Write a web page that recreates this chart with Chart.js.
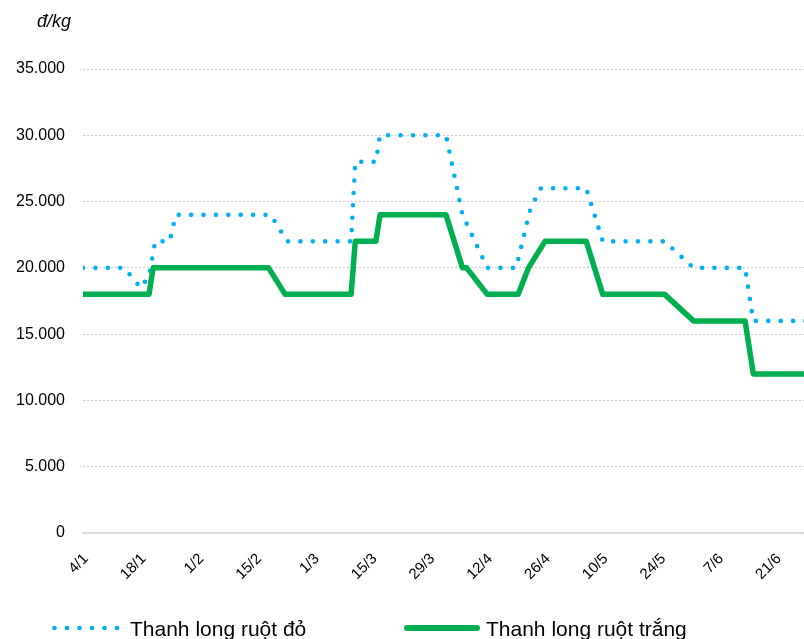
<!DOCTYPE html>
<html>
<head>
<meta charset="utf-8">
<script src="https://cdn.jsdelivr.net/npm/chart.js@4.4.1/dist/chart.umd.min.js"></script>
<style>
    html, body { margin: 0; padding: 0; width: 804px; height: 639px; overflow: hidden; background: #fff; }
    #wrap { position: relative; width: 830px; height: 639px; }
    #chart { position: absolute; left: 0; top: 0; }
    .lg-item { position: absolute; top: 618px; font: 21px "Liberation Sans", Arial, sans-serif; line-height: 21px; color: #000; white-space: nowrap; }
    .lg-mark { position: absolute; top: 623px; }
</style>
</head>
<body>
<div id="wrap">
    <canvas id="chart" width="830" height="639"></canvas>
    <svg class="lg-mark" style="left:52px" width="72" height="10">
        <line x1="2.5" y1="5" x2="67" y2="5" stroke="#00B0F0" stroke-width="4.7" stroke-linecap="round" stroke-dasharray="0 12.5"/>
    </svg>
    <div class="lg-item" id="lg0" style="left:130px"></div>
    <svg class="lg-mark" style="left:404px" width="76" height="10">
        <line x1="3" y1="5" x2="73" y2="5" stroke="#00B050" stroke-width="6" stroke-linecap="round"/>
    </svg>
    <div class="lg-item" id="lg1" style="left:486px"></div>
</div>
<script>
// x positions are days counted from 4/1
const tickDays = [0, 14, 28, 42, 56, 70, 84, 98, 112, 126, 140, 154, 168];
const tickLabels = ['4/1', '18/1', '1/2', '15/2', '1/3', '15/3', '29/3', '12/4', '26/4', '10/5', '24/5', '7/6', '21/6'];

const seriesNames = ['Thanh long ruột đỏ', 'Thanh long ruột trắng'];
const unitText = 'đ/kg';

// ruột đỏ (red flesh)
const redDays = [0, 10, 14, 16, 17.5, 21, 22.5, 45.5, 49.5, 65, 66, 71, 72, 88, 92, 98, 105, 108.5, 111, 122, 126, 141, 148, 160.5, 162.5, 176];
const redPrices = [20000, 20000, 18500, 19400, 22000, 22000, 24000, 24000, 22000, 22000, 28000, 28000, 30000, 30000, 24000, 20000, 20000, 24500, 26000, 26000, 22000, 22000, 20000, 20000, 16000, 16000];

// ruột trắng (white flesh)
const whiteDays = [0, 16, 17, 45, 49, 65, 66, 71, 72, 88, 92, 93, 98, 105.5, 108, 112, 122, 126, 141, 148, 160.5, 162.5, 176];
const whitePrices = [18000, 18000, 20000, 20000, 18000, 18000, 22000, 22000, 24000, 24000, 20000, 20000, 18000, 18000, 20000, 22000, 22000, 18000, 18000, 16000, 16000, 12000, 12000];

const fmt = v => String(v).replace(/\B(?=(\d{3})+(?!\d))/g, '.');
const toPoints = (xs, ys) => xs.map((x, i) => ({ x: x, y: ys[i] }));

const unitLabel = {
    id: 'unitLabel',
    afterDraw(chart) {
        const c = chart.ctx;
        c.save();
        c.font = 'italic 18px "Liberation Sans", Arial, sans-serif';
        c.fillStyle = '#000';
        c.textBaseline = 'alphabetic';
        c.fillText(unitText, 37, 27);
        c.restore();
    }
};

const font = { family: '"Liberation Sans", Arial, sans-serif' };

const chart = new Chart(document.getElementById('chart'), {
    type: 'line',
    data: {
        datasets: [{
            label: seriesNames[0],
            data: toPoints(redDays, redPrices),
            borderColor: '#00B0F0',
            borderWidth: 4.6,
            borderDash: [0, 12.4],
            borderCapStyle: 'round',
            borderJoinStyle: 'round',
            pointRadius: 0,
            tension: 0,
            order: 1
        }, {
            label: seriesNames[1],
            data: toPoints(whiteDays, whitePrices),
            borderColor: '#00B050',
            borderWidth: 5.5,
            borderCapStyle: 'round',
            borderJoinStyle: 'round',
            pointRadius: 0,
            tension: 0,
            order: 0
        }]
    },
    options: {
        responsive: false,
        animation: false,
        layout: { padding: { left: 0, right: 21, top: 69, bottom: 0 } },
        plugins: {
            legend: { display: false },
            tooltip: { enabled: false }
        },
        scales: {
            x: {
                type: 'linear',
                min: 0,
                max: 176,
                afterBuildTicks: s => { s.ticks = tickDays.map(v => ({ value: v })); },
                afterFit: s => { s.height = 106; },
                ticks: {
                    autoSkip: false,
                    minRotation: 45,
                    maxRotation: 45,
                    padding: 17,
                    labelOffset: 3,
                    color: '#000',
                    font: { ...font, size: 15 },
                    callback: (v, i) => tickLabels[i]
                },
                grid: { display: false, drawTicks: false },
                border: { display: true, color: '#d9d9d9', width: 1.5 }
            },
            y: {
                min: 0,
                max: 35000,
                afterFit: s => { s.width = 83; },
                ticks: {
                    stepSize: 5000,
                    padding: 18,
                    color: '#000',
                    font: { ...font, size: 16 },
                    callback: v => fmt(v)
                },
                grid: { color: '#cccccc', lineWidth: 1, drawTicks: false },
                border: { display: false, dash: [2, 2] }
            }
        }
    },
    plugins: [unitLabel]
});

document.getElementById('lg0').textContent = chart.data.datasets[0].label;
document.getElementById('lg1').textContent = chart.data.datasets[1].label;
</script>
</body>
</html>
